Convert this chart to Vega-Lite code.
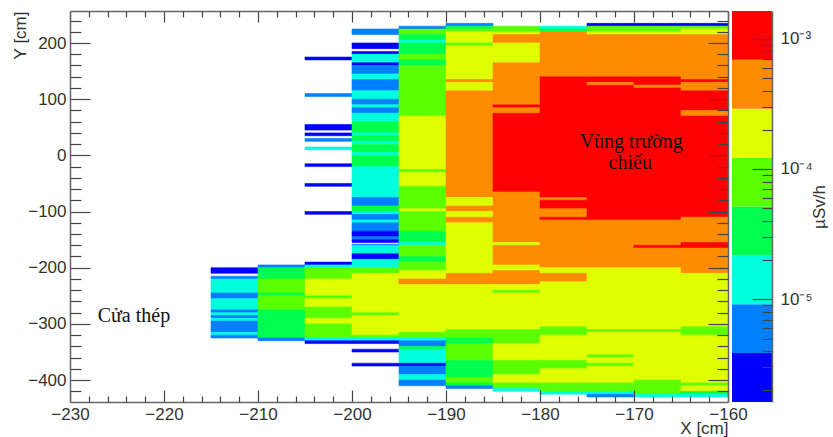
{"$schema":"https://vega.github.io/schema/vega-lite/v6.json","background":"white","padding":{"left":11,"top":10,"right":2,"bottom":2},"bounds":"flush","spacing":4,"config":{"view":{"stroke":null},"axis":{"labelFont":"Liberation Sans","titleFont":"Liberation Sans","labelFontSize":17,"titleFontSize":17,"labelColor":"#333","titleColor":"#333","titleFontWeight":"normal","domainColor":"#666","domainWidth":1.5,"tickColor":"#444","tickWidth":1.2,"grid":false,"labelFlush":false,"labelOverlap":false}},"datasets":{"notes":[{"x":-170.3,"y":24,"t":"Vùng trường"},{"x":-170.4,"y":-14,"t":"chiếu"},{"x":-223.2,"y":-286,"t":"Cửa thép"}],"cells":[
{"x0":-215,"x1":-210,"y0":-200,"y1":-210,"v":0},{"x0":-215,"x1":-210,"y0":-215,"y1":-220,"v":1},{"x0":-215,"x1":-210,"y0":-220,"y1":-245,"v":2},{"x0":-215,"x1":-210,"y0":-245,"y1":-255,"v":1},{"x0":-215,"x1":-210,"y0":-255,"y1":-275,"v":2},{"x0":-215,"x1":-210,"y0":-275,"y1":-280,"v":1},{"x0":-215,"x1":-210,"y0":-280,"y1":-285,"v":2},{"x0":-215,"x1":-210,"y0":-285,"y1":-290,"v":1},{"x0":-215,"x1":-210,"y0":-290,"y1":-295,"v":2},{"x0":-215,"x1":-210,"y0":-295,"y1":-315,"v":1},{"x0":-215,"x1":-210,"y0":-315,"y1":-320,"v":2},{"x0":-215,"x1":-210,"y0":-320,"y1":-325,"v":1},
{"x0":-210,"x1":-205,"y0":-195,"y1":-200,"v":1},{"x0":-210,"x1":-205,"y0":-200,"y1":-220,"v":3},{"x0":-210,"x1":-205,"y0":-220,"y1":-245,"v":4},{"x0":-210,"x1":-205,"y0":-245,"y1":-250,"v":3},{"x0":-210,"x1":-205,"y0":-250,"y1":-275,"v":4},{"x0":-210,"x1":-205,"y0":-275,"y1":-325,"v":3},{"x0":-210,"x1":-205,"y0":-325,"y1":-330,"v":1},
{"x0":-205,"x1":-200,"y0":175,"y1":170,"v":0},{"x0":-205,"x1":-200,"y0":110,"y1":105,"v":1},{"x0":-205,"x1":-200,"y0":55,"y1":45,"v":0},{"x0":-205,"x1":-200,"y0":40,"y1":35,"v":0},{"x0":-205,"x1":-200,"y0":30,"y1":25,"v":1},{"x0":-205,"x1":-200,"y0":15,"y1":10,"v":2},{"x0":-205,"x1":-200,"y0":-15,"y1":-20,"v":0},{"x0":-205,"x1":-200,"y0":-50,"y1":-55,"v":0},{"x0":-205,"x1":-200,"y0":-100,"y1":-105,"v":0},{"x0":-205,"x1":-200,"y0":-190,"y1":-195,"v":0},{"x0":-205,"x1":-200,"y0":-195,"y1":-200,"v":2},{"x0":-205,"x1":-200,"y0":-200,"y1":-220,"v":4},{"x0":-205,"x1":-200,"y0":-220,"y1":-250,"v":5},{"x0":-205,"x1":-200,"y0":-250,"y1":-255,"v":4},{"x0":-205,"x1":-200,"y0":-255,"y1":-270,"v":5},{"x0":-205,"x1":-200,"y0":-270,"y1":-290,"v":4},{"x0":-205,"x1":-200,"y0":-290,"y1":-300,"v":5},{"x0":-205,"x1":-200,"y0":-300,"y1":-325,"v":4},{"x0":-205,"x1":-200,"y0":-325,"y1":-330,"v":2},{"x0":-205,"x1":-200,"y0":-330,"y1":-335,"v":0},
{"x0":-200,"x1":-195,"y0":225,"y1":215,"v":1},{"x0":-200,"x1":-195,"y0":200,"y1":190,"v":0},{"x0":-200,"x1":-195,"y0":185,"y1":180,"v":0},{"x0":-200,"x1":-195,"y0":180,"y1":165,"v":2},{"x0":-200,"x1":-195,"y0":165,"y1":160,"v":0},{"x0":-200,"x1":-195,"y0":160,"y1":145,"v":1},{"x0":-200,"x1":-195,"y0":145,"y1":135,"v":2},{"x0":-200,"x1":-195,"y0":135,"y1":115,"v":1},{"x0":-200,"x1":-195,"y0":115,"y1":100,"v":2},{"x0":-200,"x1":-195,"y0":100,"y1":90,"v":1},{"x0":-200,"x1":-195,"y0":90,"y1":85,"v":2},{"x0":-200,"x1":-195,"y0":85,"y1":75,"v":1},{"x0":-200,"x1":-195,"y0":75,"y1":60,"v":2},{"x0":-200,"x1":-195,"y0":60,"y1":40,"v":3},{"x0":-200,"x1":-195,"y0":40,"y1":35,"v":2},{"x0":-200,"x1":-195,"y0":35,"y1":25,"v":3},{"x0":-200,"x1":-195,"y0":25,"y1":20,"v":2},{"x0":-200,"x1":-195,"y0":20,"y1":5,"v":3},{"x0":-200,"x1":-195,"y0":5,"y1":0,"v":2},{"x0":-200,"x1":-195,"y0":0,"y1":-20,"v":3},{"x0":-200,"x1":-195,"y0":-20,"y1":-75,"v":2},{"x0":-200,"x1":-195,"y0":-75,"y1":-90,"v":1},{"x0":-200,"x1":-195,"y0":-90,"y1":-100,"v":3},{"x0":-200,"x1":-195,"y0":-100,"y1":-105,"v":2},{"x0":-200,"x1":-195,"y0":-105,"y1":-115,"v":1},{"x0":-200,"x1":-195,"y0":-115,"y1":-120,"v":2},{"x0":-200,"x1":-195,"y0":-120,"y1":-135,"v":1},{"x0":-200,"x1":-195,"y0":-135,"y1":-145,"v":0},{"x0":-200,"x1":-195,"y0":-145,"y1":-150,"v":1},{"x0":-200,"x1":-195,"y0":-150,"y1":-155,"v":0},{"x0":-200,"x1":-195,"y0":-158,"y1":-161,"v":1},{"x0":-200,"x1":-195,"y0":-161,"y1":-175,"v":2},{"x0":-200,"x1":-195,"y0":-175,"y1":-185,"v":0},{"x0":-200,"x1":-195,"y0":-185,"y1":-200,"v":2},{"x0":-200,"x1":-195,"y0":-200,"y1":-210,"v":4},{"x0":-200,"x1":-195,"y0":-210,"y1":-280,"v":5},{"x0":-200,"x1":-195,"y0":-280,"y1":-285,"v":4},{"x0":-200,"x1":-195,"y0":-285,"y1":-320,"v":5},{"x0":-200,"x1":-195,"y0":-320,"y1":-325,"v":4},{"x0":-200,"x1":-195,"y0":-325,"y1":-330,"v":2},{"x0":-200,"x1":-195,"y0":-330,"y1":-335,"v":0},{"x0":-200,"x1":-195,"y0":-345,"y1":-350,"v":0},{"x0":-200,"x1":-195,"y0":-370,"y1":-375,"v":0},
{"x0":-195,"x1":-190,"y0":230,"y1":225,"v":1},{"x0":-195,"x1":-190,"y0":225,"y1":215,"v":4},{"x0":-195,"x1":-190,"y0":215,"y1":205,"v":3},{"x0":-195,"x1":-190,"y0":205,"y1":200,"v":2},{"x0":-195,"x1":-190,"y0":200,"y1":180,"v":3},{"x0":-195,"x1":-190,"y0":180,"y1":170,"v":4},{"x0":-195,"x1":-190,"y0":170,"y1":160,"v":3},{"x0":-195,"x1":-190,"y0":160,"y1":70,"v":4},{"x0":-195,"x1":-190,"y0":70,"y1":-25,"v":5},{"x0":-195,"x1":-190,"y0":-25,"y1":-30,"v":4},{"x0":-195,"x1":-190,"y0":-30,"y1":-55,"v":5},{"x0":-195,"x1":-190,"y0":-55,"y1":-95,"v":4},{"x0":-195,"x1":-190,"y0":-95,"y1":-100,"v":5},{"x0":-195,"x1":-190,"y0":-100,"y1":-135,"v":4},{"x0":-195,"x1":-190,"y0":-135,"y1":-155,"v":3},{"x0":-195,"x1":-190,"y0":-155,"y1":-160,"v":2},{"x0":-195,"x1":-190,"y0":-160,"y1":-180,"v":4},{"x0":-195,"x1":-190,"y0":-180,"y1":-190,"v":3},{"x0":-195,"x1":-190,"y0":-190,"y1":-205,"v":4},{"x0":-195,"x1":-190,"y0":-205,"y1":-220,"v":5},{"x0":-195,"x1":-190,"y0":-220,"y1":-230,"v":6},{"x0":-195,"x1":-190,"y0":-230,"y1":-315,"v":5},{"x0":-195,"x1":-190,"y0":-315,"y1":-325,"v":4},{"x0":-195,"x1":-190,"y0":-325,"y1":-330,"v":2},{"x0":-195,"x1":-190,"y0":-330,"y1":-340,"v":1},{"x0":-195,"x1":-190,"y0":-340,"y1":-345,"v":3},{"x0":-195,"x1":-190,"y0":-345,"y1":-370,"v":2},{"x0":-195,"x1":-190,"y0":-370,"y1":-375,"v":0},{"x0":-195,"x1":-190,"y0":-375,"y1":-390,"v":1},{"x0":-195,"x1":-190,"y0":-390,"y1":-400,"v":2},{"x0":-195,"x1":-190,"y0":-400,"y1":-410,"v":1},
{"x0":-190,"x1":-185,"y0":235,"y1":230,"v":1},{"x0":-190,"x1":-185,"y0":230,"y1":225,"v":3},{"x0":-190,"x1":-185,"y0":225,"y1":220,"v":4},{"x0":-190,"x1":-185,"y0":220,"y1":200,"v":5},{"x0":-190,"x1":-185,"y0":200,"y1":195,"v":4},{"x0":-190,"x1":-185,"y0":195,"y1":135,"v":5},{"x0":-190,"x1":-185,"y0":135,"y1":130,"v":6},{"x0":-190,"x1":-185,"y0":130,"y1":115,"v":5},{"x0":-190,"x1":-185,"y0":115,"y1":-75,"v":6},{"x0":-190,"x1":-185,"y0":-75,"y1":-90,"v":5},{"x0":-190,"x1":-185,"y0":-90,"y1":-100,"v":6},{"x0":-190,"x1":-185,"y0":-100,"y1":-110,"v":5},{"x0":-190,"x1":-185,"y0":-110,"y1":-120,"v":6},{"x0":-190,"x1":-185,"y0":-120,"y1":-210,"v":5},{"x0":-190,"x1":-185,"y0":-210,"y1":-230,"v":6},{"x0":-190,"x1":-185,"y0":-230,"y1":-310,"v":5},{"x0":-190,"x1":-185,"y0":-310,"y1":-325,"v":4},{"x0":-190,"x1":-185,"y0":-325,"y1":-335,"v":3},{"x0":-190,"x1":-185,"y0":-335,"y1":-365,"v":4},{"x0":-190,"x1":-185,"y0":-365,"y1":-395,"v":3},{"x0":-190,"x1":-185,"y0":-395,"y1":-405,"v":4},{"x0":-190,"x1":-185,"y0":-405,"y1":-410,"v":3},{"x0":-190,"x1":-185,"y0":-410,"y1":-415,"v":1},
{"x0":-185,"x1":-180,"y0":230,"y1":220,"v":4},{"x0":-185,"x1":-180,"y0":220,"y1":215,"v":5},{"x0":-185,"x1":-180,"y0":215,"y1":200,"v":6},{"x0":-185,"x1":-180,"y0":200,"y1":165,"v":5},{"x0":-185,"x1":-180,"y0":165,"y1":90,"v":6},{"x0":-185,"x1":-180,"y0":90,"y1":85,"v":7},{"x0":-185,"x1":-180,"y0":85,"y1":75,"v":6},{"x0":-185,"x1":-180,"y0":75,"y1":-65,"v":7},{"x0":-185,"x1":-180,"y0":-65,"y1":-155,"v":6},{"x0":-185,"x1":-180,"y0":-155,"y1":-160,"v":5},{"x0":-185,"x1":-180,"y0":-160,"y1":-195,"v":6},{"x0":-185,"x1":-180,"y0":-195,"y1":-205,"v":5},{"x0":-185,"x1":-180,"y0":-205,"y1":-230,"v":6},{"x0":-185,"x1":-180,"y0":-230,"y1":-240,"v":5},{"x0":-185,"x1":-180,"y0":-240,"y1":-245,"v":4},{"x0":-185,"x1":-180,"y0":-245,"y1":-310,"v":5},{"x0":-185,"x1":-180,"y0":-310,"y1":-335,"v":4},{"x0":-185,"x1":-180,"y0":-335,"y1":-365,"v":5},{"x0":-185,"x1":-180,"y0":-365,"y1":-390,"v":4},{"x0":-185,"x1":-180,"y0":-390,"y1":-405,"v":5},{"x0":-185,"x1":-180,"y0":-405,"y1":-415,"v":4},{"x0":-185,"x1":-180,"y0":-415,"y1":-420,"v":2},
{"x0":-180,"x1":-175,"y0":230,"y1":225,"v":2},{"x0":-180,"x1":-175,"y0":225,"y1":220,"v":3},{"x0":-180,"x1":-175,"y0":220,"y1":140,"v":6},{"x0":-180,"x1":-175,"y0":140,"y1":-75,"v":7},{"x0":-180,"x1":-175,"y0":-75,"y1":-80,"v":6},{"x0":-180,"x1":-175,"y0":-80,"y1":-95,"v":7},{"x0":-180,"x1":-175,"y0":-95,"y1":-110,"v":6},{"x0":-180,"x1":-175,"y0":-110,"y1":-115,"v":7},{"x0":-180,"x1":-175,"y0":-115,"y1":-200,"v":6},{"x0":-180,"x1":-175,"y0":-200,"y1":-210,"v":5},{"x0":-180,"x1":-175,"y0":-210,"y1":-225,"v":6},{"x0":-180,"x1":-175,"y0":-225,"y1":-305,"v":5},{"x0":-180,"x1":-175,"y0":-305,"y1":-320,"v":4},{"x0":-180,"x1":-175,"y0":-320,"y1":-365,"v":5},{"x0":-180,"x1":-175,"y0":-365,"y1":-380,"v":4},{"x0":-180,"x1":-175,"y0":-380,"y1":-405,"v":5},{"x0":-180,"x1":-175,"y0":-405,"y1":-420,"v":4},{"x0":-180,"x1":-175,"y0":-420,"y1":-425,"v":2},
{"x0":-175,"x1":-170,"y0":235,"y1":230,"v":0},{"x0":-175,"x1":-170,"y0":230,"y1":220,"v":4},{"x0":-175,"x1":-170,"y0":220,"y1":215,"v":5},{"x0":-175,"x1":-170,"y0":215,"y1":140,"v":6},{"x0":-175,"x1":-170,"y0":140,"y1":130,"v":7},{"x0":-175,"x1":-170,"y0":130,"y1":125,"v":6},{"x0":-175,"x1":-170,"y0":125,"y1":-115,"v":7},{"x0":-175,"x1":-170,"y0":-115,"y1":-200,"v":6},{"x0":-175,"x1":-170,"y0":-200,"y1":-310,"v":5},{"x0":-175,"x1":-170,"y0":-310,"y1":-315,"v":4},{"x0":-175,"x1":-170,"y0":-315,"y1":-355,"v":5},{"x0":-175,"x1":-170,"y0":-355,"y1":-360,"v":4},{"x0":-175,"x1":-170,"y0":-360,"y1":-370,"v":5},{"x0":-175,"x1":-170,"y0":-370,"y1":-375,"v":4},{"x0":-175,"x1":-170,"y0":-375,"y1":-405,"v":5},{"x0":-175,"x1":-170,"y0":-405,"y1":-420,"v":4},{"x0":-175,"x1":-170,"y0":-420,"y1":-425,"v":2},{"x0":-175,"x1":-170,"y0":-425,"y1":-430,"v":1},
{"x0":-170,"x1":-165,"y0":235,"y1":230,"v":0},{"x0":-170,"x1":-165,"y0":230,"y1":220,"v":4},{"x0":-170,"x1":-165,"y0":220,"y1":215,"v":5},{"x0":-170,"x1":-165,"y0":215,"y1":140,"v":6},{"x0":-170,"x1":-165,"y0":140,"y1":125,"v":7},{"x0":-170,"x1":-165,"y0":125,"y1":120,"v":6},{"x0":-170,"x1":-165,"y0":120,"y1":-115,"v":7},{"x0":-170,"x1":-165,"y0":-115,"y1":-160,"v":6},{"x0":-170,"x1":-165,"y0":-160,"y1":-165,"v":7},{"x0":-170,"x1":-165,"y0":-165,"y1":-200,"v":6},{"x0":-170,"x1":-165,"y0":-200,"y1":-310,"v":5},{"x0":-170,"x1":-165,"y0":-310,"y1":-315,"v":4},{"x0":-170,"x1":-165,"y0":-315,"y1":-400,"v":5},{"x0":-170,"x1":-165,"y0":-400,"y1":-425,"v":4},{"x0":-170,"x1":-165,"y0":-425,"y1":-430,"v":2},
{"x0":-165,"x1":-160,"y0":235,"y1":230,"v":0},{"x0":-165,"x1":-160,"y0":230,"y1":225,"v":4},{"x0":-165,"x1":-160,"y0":225,"y1":215,"v":5},{"x0":-165,"x1":-160,"y0":215,"y1":135,"v":6},{"x0":-165,"x1":-160,"y0":135,"y1":130,"v":7},{"x0":-165,"x1":-160,"y0":130,"y1":115,"v":6},{"x0":-165,"x1":-160,"y0":115,"y1":80,"v":7},{"x0":-165,"x1":-160,"y0":80,"y1":70,"v":6},{"x0":-165,"x1":-160,"y0":70,"y1":-110,"v":7},{"x0":-165,"x1":-160,"y0":-110,"y1":-155,"v":6},{"x0":-165,"x1":-160,"y0":-155,"y1":-165,"v":7},{"x0":-165,"x1":-160,"y0":-165,"y1":-210,"v":6},{"x0":-165,"x1":-160,"y0":-210,"y1":-305,"v":5},{"x0":-165,"x1":-160,"y0":-305,"y1":-320,"v":4},{"x0":-165,"x1":-160,"y0":-320,"y1":-405,"v":5},{"x0":-165,"x1":-160,"y0":-405,"y1":-410,"v":4},{"x0":-165,"x1":-160,"y0":-410,"y1":-420,"v":5},{"x0":-165,"x1":-160,"y0":-420,"y1":-425,"v":3},{"x0":-165,"x1":-160,"y0":-425,"y1":-430,"v":2}
],"bands":[{"a":0,"b":1,"lo":1.63e-6,"hi":3.87e-6,"v":0},{"a":0,"b":1,"lo":3.87e-6,"hi":9.17e-6,"v":1},{"a":0,"b":1,"lo":9.17e-6,"hi":2.17e-5,"v":2},{"a":0,"b":1,"lo":2.17e-5,"hi":5.16e-5,"v":3},{"a":0,"b":1,"lo":5.16e-5,"hi":1.22e-4,"v":4},{"a":0,"b":1,"lo":1.22e-4,"hi":2.9e-4,"v":5},{"a":0,"b":1,"lo":2.9e-4,"hi":6.88e-4,"v":6},{"a":0,"b":1,"lo":6.88e-4,"hi":1.63e-3,"v":7}]},
"hconcat":[{"width":658,"height":391,"resolve":{"axis":{"x":"independent","y":"independent"}},"layer":[
{"data":{"name":"cells"},"mark":{"type":"rect","strokeWidth":0.6},"encoding":{
"x":{"field":"x0","type":"quantitative","scale":{"domain":[-230,-160],"nice":false,"zero":false},"axis":{"zindex":1,"orient":"bottom","values":[-230,-220,-210,-200,-190,-180,-170,-160],"tickSize":-12,"labelPadding":16,"title":"X [cm]","titleAnchor":"end","titleAlign":"right","titlePadding":-2}},"x2":{"field":"x1"},
"y":{"field":"y0","type":"quantitative","scale":{"domain":[-439,257],"nice":false,"zero":false},"axis":{"zindex":1,"orient":"left","values":[-400,-300,-200,-100,0,100,200],"tickSize":-20,"labelPadding":24,"title":"Y [cm]","titleAnchor":"end","titleAlign":"right","titlePadding":-2}},"y2":{"field":"y1"},
"color":{"field":"v","type":"ordinal","legend":null,"scale":{"domain":[0,1,2,3,4,5,6,7],"range":["#0000ff","#0080ff","#00ffdc","#00ff4c","#5aff00","#dfff00","#ff8c00","#ff0000"]}},
"stroke":{"field":"v","type":"ordinal","legend":null,"scale":{"domain":[0,1,2,3,4,5,6,7],"range":["#0000ff","#0080ff","#00ffdc","#00ff4c","#5aff00","#dfff00","#ff8c00","#ff0000"]}}}},
{"data":{"name":"notes"},"mark":{"type":"point","opacity":0},"encoding":{
"x":{"field":"x","type":"quantitative","scale":{"domain":[-230,-160],"nice":false,"zero":false},"axis":{"zindex":1,"orient":"bottom","values":[-228,-226,-224,-222,-218,-216,-214,-212,-208,-206,-204,-202,-198,-196,-194,-192,-188,-186,-184,-182,-178,-176,-174,-172,-168,-166,-164,-162],"tickSize":-6,"labels":false,"domain":false,"title":null}},
"y":{"field":"y","type":"quantitative","scale":{"domain":[-439,257],"nice":false,"zero":false},"axis":{"zindex":1,"orient":"left","values":[-420,-380,-360,-340,-320,-280,-260,-240,-220,-180,-160,-140,-120,-80,-60,-40,-20,20,40,60,80,120,140,160,180,220,240],"tickSize":-11,"labels":false,"domain":false,"title":null}}}},
{"data":{"name":"notes"},"mark":{"type":"point","opacity":0},"encoding":{
"x":{"field":"x","type":"quantitative","scale":{"domain":[-230,-160],"nice":false,"zero":false},"axis":{"zindex":1,"orient":"top","values":[-230,-220,-210,-200,-190,-180,-170,-160],"tickSize":-11,"labels":false,"title":null}},
"y":{"field":"y","type":"quantitative","scale":{"domain":[-439,257],"nice":false,"zero":false},"axis":{"zindex":1,"orient":"right","values":[-400,-300,-200,-100,0,100,200],"tickSize":-20,"labels":false,"title":null}}}},
{"data":{"name":"notes"},"mark":{"type":"point","opacity":0},"encoding":{
"x":{"field":"x","type":"quantitative","scale":{"domain":[-230,-160],"nice":false,"zero":false},"axis":{"zindex":1,"orient":"top","values":[-228,-226,-224,-222,-218,-216,-214,-212,-208,-206,-204,-202,-198,-196,-194,-192,-188,-186,-184,-182,-178,-176,-174,-172,-168,-166,-164,-162],"tickSize":-6,"labels":false,"domain":false,"title":null}},
"y":{"field":"y","type":"quantitative","scale":{"domain":[-439,257],"nice":false,"zero":false},"axis":{"zindex":1,"orient":"right","values":[-420,-380,-360,-340,-320,-280,-260,-240,-220,-180,-160,-140,-120,-80,-60,-40,-20,20,40,60,80,120,140,160,180,220,240],"tickSize":-11,"labels":false,"domain":false,"title":null}}}},
{"data":{"name":"notes"},"mark":{"type":"text","font":"Liberation Serif","fontSize":20,"color":"#111","align":"center","baseline":"middle"},"encoding":{
"x":{"field":"x","type":"quantitative","scale":{"domain":[-230,-160],"nice":false,"zero":false},"axis":null},
"y":{"field":"y","type":"quantitative","scale":{"domain":[-439,257],"nice":false,"zero":false},"axis":null},
"text":{"field":"t"}}}
]},
{"width":40,"height":391,"resolve":{"axis":{"y":"independent"}},"layer":[
{"data":{"name":"bands"},"mark":{"type":"rect"},"encoding":{
"x":{"field":"a","type":"quantitative","scale":{"domain":[0,1],"nice":false},"axis":null},"x2":{"field":"b"},
"y":{"field":"lo","type":"quantitative","scale":{"type":"log","domain":[1.63e-6,1.63e-3],"nice":false},"axis":{"zindex":1,"orient":"right","values":[1e-3,1e-4,1e-5],"tickSize":-20,"labelPadding":28,"labelExpr":"datum.value>5e-4?'10⁻³':datum.value>5e-5?'10⁻⁴':'10⁻⁵'","title":"µSv/h","titleAngle":270,"titlePadding":16}},"y2":{"field":"hi"},
"color":{"field":"v","type":"ordinal","legend":null,"scale":{"domain":[0,1,2,3,4,5,6,7],"range":["#0000ff","#0080ff","#00ffdc","#00ff4c","#5aff00","#dfff00","#ff8c00","#ff0000"]}}}},
{"data":{"name":"bands"},"mark":{"type":"rect","opacity":0},"encoding":{
"x":{"field":"a","type":"quantitative","scale":{"domain":[0,1],"nice":false},"axis":null},"x2":{"field":"b"},
"y":{"field":"lo","type":"quantitative","scale":{"type":"log","domain":[1.63e-6,1.63e-3],"nice":false},"axis":{"zindex":1,"orient":"right","values":[9e-4,8e-4,7e-4,6e-4,5e-4,4e-4,3e-4,2e-4,9e-5,8e-5,7e-5,6e-5,5e-5,4e-5,3e-5,2e-5,9e-6,8e-6,7e-6,6e-6,5e-6,4e-6,3e-6,2e-6],"tickSize":-10,"labels":false,"domain":false,"title":null}},"y2":{"field":"hi"}}}
]}
],"resolve":{"scale":{"color":"independent"}}}
